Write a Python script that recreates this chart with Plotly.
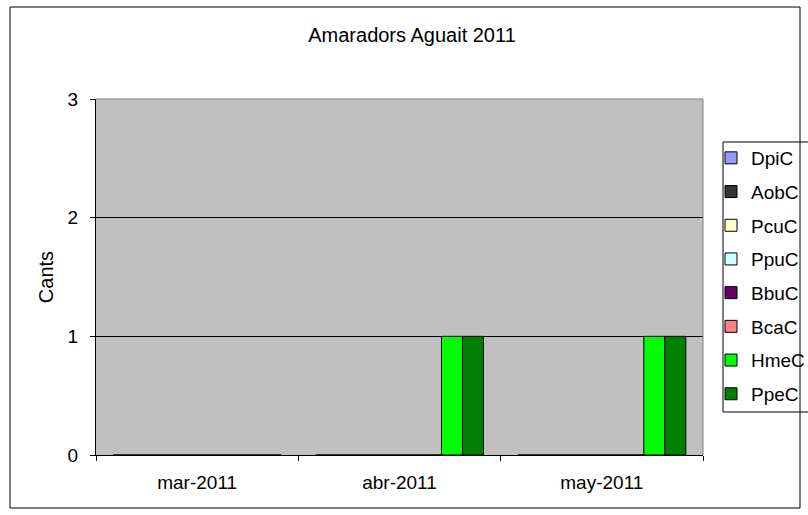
import plotly.graph_objects as go

categories = ["mar-2011", "abr-2011", "may-2011"]
series_names = ["DpiC", "AobC", "PcuC", "PpuC", "BbuC", "BcaC", "HmeC", "PpeC"]
DpiC = [0, 0, 0]
AobC = [0, 0, 0]
PcuC = [0, 0, 0]
PpuC = [0, 0, 0]
BbuC = [0, 0, 0]
BcaC = [0, 0, 0]
HmeC = [0, 1, 1]
PpeC = [0, 1, 1]
series_values = [DpiC, AobC, PcuC, PpuC, BbuC, BcaC, HmeC, PpeC]
colors = ["#9999FF", "#333333", "#FFFFCC", "#CCFFFF", "#660066", "#FF8080", "#00FF00", "#008000"]
y_ticks = [0, 1, 2, 3]

W, H = 808, 515
L, R, T, B = 96, 703, 99, 455

fig = go.Figure()
for name, vals, col in zip(series_names, series_values, colors):
    fig.add_trace(go.Bar(
        x=categories, y=vals, name=name, legendgroup=name,
        marker=dict(color=col, line=dict(color="black", width=1)),
    ))

def px_x(x):
    return (x - L) / (R - L)

def px_y(y):
    return (B - y) / (B - T)

font = dict(family="Liberation Sans, Arial, sans-serif", size=19, color="black")

fig.update_layout(
    width=W, height=H,
    margin=dict(l=L, r=W - R, t=T, b=H - B, autoexpand=False),
    paper_bgcolor="white",
    plot_bgcolor="#C0C0C0",
    font=font,
    barmode="group",
    bargap=0.17,
    bargroupgap=0,
    showlegend=True,
    title=dict(text="Amaradors Aguait 2011", x=412 / W, xanchor="center",
               y=1 - 35 / H, yanchor="middle", font=dict(size=20)),
    legend=dict(
        x=px_x(711), xanchor="left", y=px_y(139), yanchor="top",
        borderwidth=0, bgcolor="rgba(0,0,0,0)",
        font=dict(size=19), tracegroupgap=6,
        itemclick=False, itemdoubleclick=False,
    ),
    xaxis=dict(
        showline=True, linecolor="black", linewidth=1,
        ticks="outside", ticklen=5, tickcolor="black", tickson="boundaries",
        showgrid=False, tickfont=dict(size=19), ticklabelstandoff=10,
    ),
    yaxis=dict(
        range=[0, 3], tickvals=y_ticks, showline=True, linecolor="black", linewidth=1,
        ticks="outside", ticklen=5, tickcolor="black",
        showgrid=True, gridcolor="black", gridwidth=1, zeroline=False,
        tickfont=dict(size=19), ticklabelstandoff=8,
        title=dict(text="Cants", font=dict(size=20), standoff=8),
    ),
    shapes=[
        dict(type="rect", xref="paper", yref="paper",
             x0=px_x(10), x1=px_x(800), y0=px_y(508), y1=px_y(7),
             line=dict(color="black", width=1), fillcolor="rgba(0,0,0,0)", layer="below"),
        dict(type="rect", xref="paper", yref="paper",
             x0=px_x(723), x1=px_x(830), y0=px_y(412), y1=px_y(142),
             line=dict(color="black", width=1), fillcolor="rgba(0,0,0,0)", layer="below"),
        dict(type="line", xref="paper", yref="paper", x0=0, x1=1, y0=1, y1=1,
             line=dict(color="#808080", width=1), layer="above"),
        dict(type="line", xref="paper", yref="paper", x0=1, x1=1, y0=0, y1=1,
             line=dict(color="#808080", width=1), layer="above"),
    ],
)

fig.write_html(
    "out.html",
    config={"displayModeBar": False},
    post_script="document.body.style.margin='0';document.body.style.overflow='hidden';",
)
